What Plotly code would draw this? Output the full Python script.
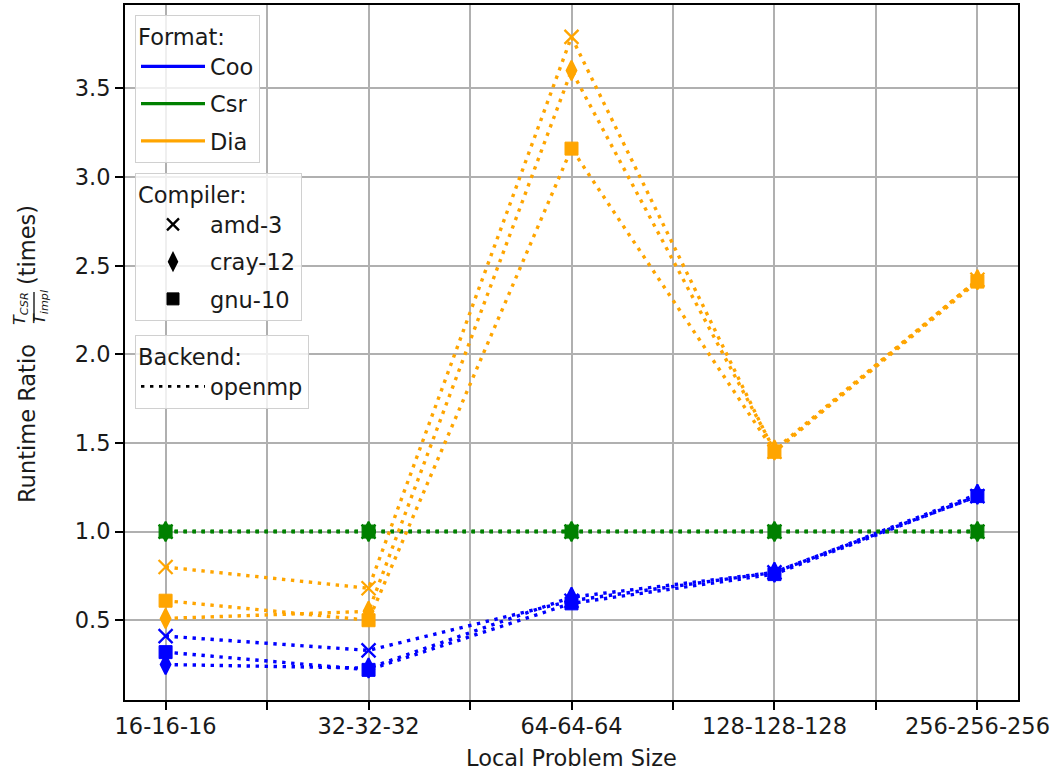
import plotly.graph_objects as go

# ---- data ----
categories = ["16-16-16", "32-32-32", "64-64-64", "128-128-128", "256-256-256"]

coo_amd = [0.41, 0.33, 0.61, 0.77, 1.20]
coo_cray = [0.25, 0.23, 0.63, 0.77, 1.21]
coo_gnu = [0.32, 0.22, 0.595, 0.76, 1.20]

csr_amd = [1.0, 1.0, 1.0, 1.0, 1.0]
csr_cray = [1.0, 1.0, 1.0, 1.0, 1.0]
csr_gnu = [1.0, 1.0, 1.0, 1.0, 1.0]

dia_amd = [0.80, 0.68, 3.79, 1.45, 2.42]
dia_cray = [0.51, 0.55, 3.60, 1.46, 2.42]
dia_gnu = [0.61, 0.50, 3.16, 1.45, 2.41]

formats = ["Coo", "Csr", "Dia"]
format_colors = {"Coo": "blue", "Csr": "green", "Dia": "orange"}
compilers = ["amd-3", "cray-12", "gnu-10"]
compiler_symbols = {"amd-3": "x-thin", "cray-12": "diamond-tall", "gnu-10": "square"}
compiler_sizes = {"amd-3": 14, "cray-12": 14, "gnu-10": 13}
series = {
    ("Coo", "amd-3"): coo_amd, ("Coo", "cray-12"): coo_cray, ("Coo", "gnu-10"): coo_gnu,
    ("Csr", "amd-3"): csr_amd, ("Csr", "cray-12"): csr_cray, ("Csr", "gnu-10"): csr_gnu,
    ("Dia", "amd-3"): dia_amd, ("Dia", "cray-12"): dia_cray, ("Dia", "gnu-10"): dia_gnu,
}
y_ticks = [0.5, 1.0, 1.5, 2.0, 2.5, 3.0, 3.5]

# ---- figure geometry ----
W, H = 1056, 774
L, R, T, B = 125, 38, 5, 74
PW, PH = W - L - R, H - T - B
FS = 22.5
LW = 3.4
DOT = "3.4px,5.6px"
FONT = "DejaVu Sans"
TXT = "#1a1a1a"


def px_x(p):
    return (p - L) / PW


def px_y(p):
    return 1 - (p - T) / PH


def edge_width(sym):
    return {"x-thin": 2.3, "diamond-tall": 2}.get(sym, 1)


xs = list(range(len(categories)))

fig = go.Figure()
for fmt in formats:
    col = format_colors[fmt]
    for comp in compilers:
        sym = compiler_symbols[comp]
        fig.add_trace(go.Scatter(
            x=xs, y=series[(fmt, comp)], mode="lines+markers",
            line=dict(color=col, width=LW, dash=DOT),
            marker=dict(symbol=sym, size=compiler_sizes[comp], color=col,
                        line=dict(color=col, width=edge_width(sym))),
            showlegend=False, hoverinfo="skip",
        ))

# legend entries
for fmt in formats:
    fig.add_trace(go.Scatter(x=[None], y=[None], mode="lines", name=fmt,
                             line=dict(color=format_colors[fmt], width=LW),
                             legend="legend", legendgroup="f" + fmt))
for comp in compilers:
    sym = compiler_symbols[comp]
    fig.add_trace(go.Scatter(x=[None], y=[None], mode="markers", name=comp,
                             marker=dict(symbol=sym, size=12, color="black",
                                         line=dict(color="black", width=edge_width(sym))),
                             legend="legend2", legendgroup="c" + comp))
fig.add_trace(go.Scatter(x=[None], y=[None], mode="lines", name="openmp",
                         line=dict(color="black", width=LW * 0.8, dash=DOT),
                         legend="legend3", legendgroup="b"))

leg_common = dict(bgcolor="rgba(255,255,255,0.8)", bordercolor="#d0d0d0", borderwidth=1,
                  font=dict(family=FONT, size=FS, color=TXT), xanchor="left", yanchor="top",
                  tracegroupgap=5, itemwidth=64)


def leg_title(t):
    return dict(text=t, side="top", font=dict(family=FONT, size=FS, color=TXT))


fig.update_layout(
    width=W, height=H,
    margin=dict(l=L, r=R, t=T, b=B),
    plot_bgcolor="white", paper_bgcolor="white",
    font=dict(family=FONT, size=FS, color=TXT),
    legend=dict(x=px_x(135), y=px_y(15), title=leg_title("Format:"), **leg_common),
    legend2=dict(x=px_x(135), y=px_y(173), title=leg_title("Compiler:"), **leg_common),
    legend3=dict(x=px_x(135), y=px_y(335), title=leg_title("Backend:"), **leg_common),
    xaxis=dict(
        range=[-0.2, 4.2], tickmode="array", tickvals=xs, ticktext=categories,
        ticks="outside", ticklen=8, tickwidth=1.8, tickcolor="black",
        showgrid=True, gridcolor="#b0b0b0", gridwidth=1.5,
        minor=dict(tickvals=[0.5, 1.5, 2.5, 3.5], ticks="outside", ticklen=8, tickwidth=1.8,
                   tickcolor="black", showgrid=True, gridcolor="#b0b0b0", gridwidth=1.5),
        showline=True, linecolor="black", linewidth=1.8, mirror=True, zeroline=False,
        tickfont=dict(family=FONT, size=FS, color=TXT), ticklabelstandoff=-3,
        title=dict(text="Local Problem Size", font=dict(family=FONT, size=FS, color=TXT), standoff=12),
        automargin=False,
    ),
    yaxis=dict(
        range=[0.05, 3.97], tickmode="array", tickvals=y_ticks,
        ticktext=[f"{v:.1f}" for v in y_ticks],
        ticks="outside", ticklen=8, tickwidth=1.8, tickcolor="black",
        showgrid=True, gridcolor="#b0b0b0", gridwidth=1.5,
        showline=True, linecolor="black", linewidth=1.8, mirror=True, zeroline=False,
        tickfont=dict(family=FONT, size=FS, color=TXT),
        automargin=False,
    ),
)

# y-axis title built from rotated text pieces with a fraction
ann = dict(xref="paper", yref="paper", showarrow=False, textangle=-90,
           xanchor="center", yanchor="middle", font=dict(family=FONT, size=FS, color=TXT))
fig.add_annotation(text="Runtime Ratio", x=px_x(27), y=px_y(424), **ann)
fig.add_annotation(text="(times)", x=px_x(27), y=px_y(245), **ann)
ann_small = dict(ann)
ann_small["font"] = dict(family=FONT, size=16, color=TXT)
fig.add_annotation(text="<i>T</i><sub><i>CSR</i></sub>", x=px_x(20), y=px_y(309), **ann_small)
fig.add_annotation(text="<i>T</i><sub><i>impl</i></sub>", x=px_x(40), y=px_y(307), **ann_small)
fig.add_shape(type="line", xref="paper", yref="paper",
              x0=px_x(34), x1=px_x(34), y0=px_y(292), y1=px_y(321),
              line=dict(color=TXT, width=1.4))

fig.write_html("out.html", config={"displayModeBar": False},
               post_script="document.body.style.margin='0';document.body.style.padding='0';")
